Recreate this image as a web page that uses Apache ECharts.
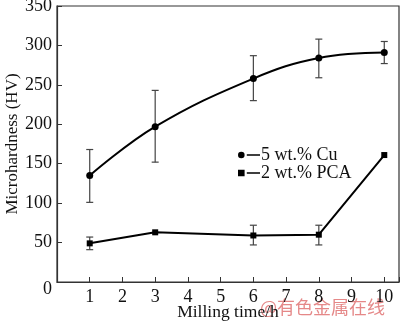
<!DOCTYPE html>
<html>
<head>
<meta charset="utf-8">
<script src="https://cdn.jsdelivr.net/npm/echarts@6/dist/echarts.min.js"></script>
<style>html,body{margin:0;padding:0;background:#fff}#c{width:400px;height:325px}</style>
</head>
<body>
<div id="c"></div>
<script>
// Milling time (h)
var millingTime = [1, 3, 6, 8, 10];
// 5 wt.% Cu: mean hardness and error range
var cuHardness = [135, 197, 258, 284, 291];
var cuLow = [101, 152, 230, 259, 277];
var cuHigh = [168, 243, 287, 308, 305];
// 2 wt.% PCA: mean hardness and error range
var pcaHardness = [49, 63, 59, 60, 161];
var pcaLow = [41, 63, 47, 47, 161];
var pcaHigh = [57, 63, 72, 72, 161];
var xTicks = [1, 2, 3, 4, 5, 6, 7, 8, 9, 10];
var yTicks = [0, 50, 100, 150, 200, 250, 300, 350];

var serif = '"Liberation Serif", "DejaVu Serif", serif';

function pairs(ys) { return millingTime.map(function (x, i) { return [x, ys[i]]; }); }
function errData(lo, hi) { return millingTime.map(function (x, i) { return [x, lo[i], hi[i]]; }); }

function errorBar(params, api) {
  var x = api.value(0);
  var lo = api.coord([x, api.value(1)]);
  var hi = api.coord([x, api.value(2)]);
  if (Math.abs(lo[1] - hi[1]) < 1) return null;
  var w = 3.5;
  var st = { stroke: '#444', lineWidth: 1.2 };
  return {
    type: 'group',
    children: [
      { type: 'line', shape: { x1: lo[0], y1: lo[1], x2: hi[0], y2: hi[1] }, style: st },
      { type: 'line', shape: { x1: lo[0] - w, y1: lo[1], x2: lo[0] + w, y2: lo[1] }, style: st },
      { type: 'line', shape: { x1: hi[0] - w, y1: hi[1], x2: hi[0] + w, y2: hi[1] }, style: st }
    ]
  };
}

var circleIcon = 'path://M0,3a3,3 0 1,0 6,0a3,3 0 1,0 -6,0Z M8,2.4L20,2.4L20,3.6L8,3.6Z';
var squareIcon = 'path://M0,0L6,0L6,6L0,6Z M8,2.4L20,2.4L20,3.6L8,3.6Z';

var chart = echarts.init(document.getElementById('c'), null, { renderer: 'canvas' });
chart.setOption({
  animation: false,
  backgroundColor: '#fff',
  grid: {
    left: 57, right: 1, top: 6, bottom: 43, containLabel: false, outerBoundsMode: 'none',
    show: true, borderColor: '#333', borderWidth: 1.2
  },
  legend: {
    orient: 'vertical', left: 233, top: 141, itemGap: 0,
    itemWidth: 22, itemHeight: 7,
    textStyle: { fontFamily: serif, fontSize: 18, color: '#111', padding: [0, 0, 0, -4] },
    data: [
      { name: '5 wt.% Cu', icon: circleIcon },
      { name: '2 wt.% PCA', icon: squareIcon }
    ]
  },
  xAxis: {
    type: 'value', min: 0, max: 10.45, interval: 1,
    name: 'Milling time/h', nameLocation: 'middle', nameGap: 21, nameMoveOverlap: false,
    nameTextStyle: { fontFamily: serif, fontSize: 17.5, color: '#111' },
    axisLine: { lineStyle: { color: '#333', width: 1.2 } },
    axisTick: { inside: true, length: 5, lineStyle: { color: '#333' } },
    axisLabel: {
      fontFamily: serif, fontSize: 18, color: '#111', margin: 6,
      formatter: function (v) { return xTicks.indexOf(v) >= 0 ? String(v) : ''; }
    },
    splitLine: { show: false }
  },
  yAxis: {
    type: 'value', min: 0, max: 350, interval: 50,
    name: 'Microhardness (HV)', nameLocation: 'middle', nameGap: 36, nameMoveOverlap: false,
    nameTextStyle: { fontFamily: serif, fontSize: 17, color: '#111' },
    axisLine: { lineStyle: { color: '#333', width: 1.2 } },
    axisTick: { inside: true, length: 5, lineStyle: { color: '#333' } },
    axisLabel: {
      fontFamily: serif, fontSize: 18, color: '#111', margin: 5,
      formatter: function (v) { return yTicks.indexOf(v) >= 0 ? (v === 0 ? '{z|0}' : String(v)) : ''; },
      rich: { z: { fontFamily: serif, fontSize: 18, color: '#111', padding: [14, 0, 0, 0] } }
    },
    splitLine: { show: false }
  },
  series: [
    {
      name: '5 wt.% Cu', type: 'line', smooth: 0.4, data: pairs(cuHardness),
      symbol: 'circle', symbolSize: 7,
      itemStyle: { color: '#000' }, lineStyle: { color: '#000', width: 2 }, z: 3
    },
    {
      name: '2 wt.% PCA', type: 'line', data: pairs(pcaHardness),
      symbol: 'rect', symbolSize: 6,
      itemStyle: { color: '#000' }, lineStyle: { color: '#000', width: 2 }, z: 3
    },
    { type: 'custom', renderItem: errorBar, data: errData(cuLow, cuHigh), z: 2, silent: true },
    { type: 'custom', renderItem: errorBar, data: errData(pcaLow, pcaHigh), z: 2, silent: true }
  ],
  graphic: [
    {
      type: 'text', left: 260, top: 298,
      style: { text: '@有色金属在线', font: '18px "Noto Sans CJK SC"', fill: 'rgba(225,115,115,0.85)' }
    }
  ]
});
</script>
</body>
</html>
